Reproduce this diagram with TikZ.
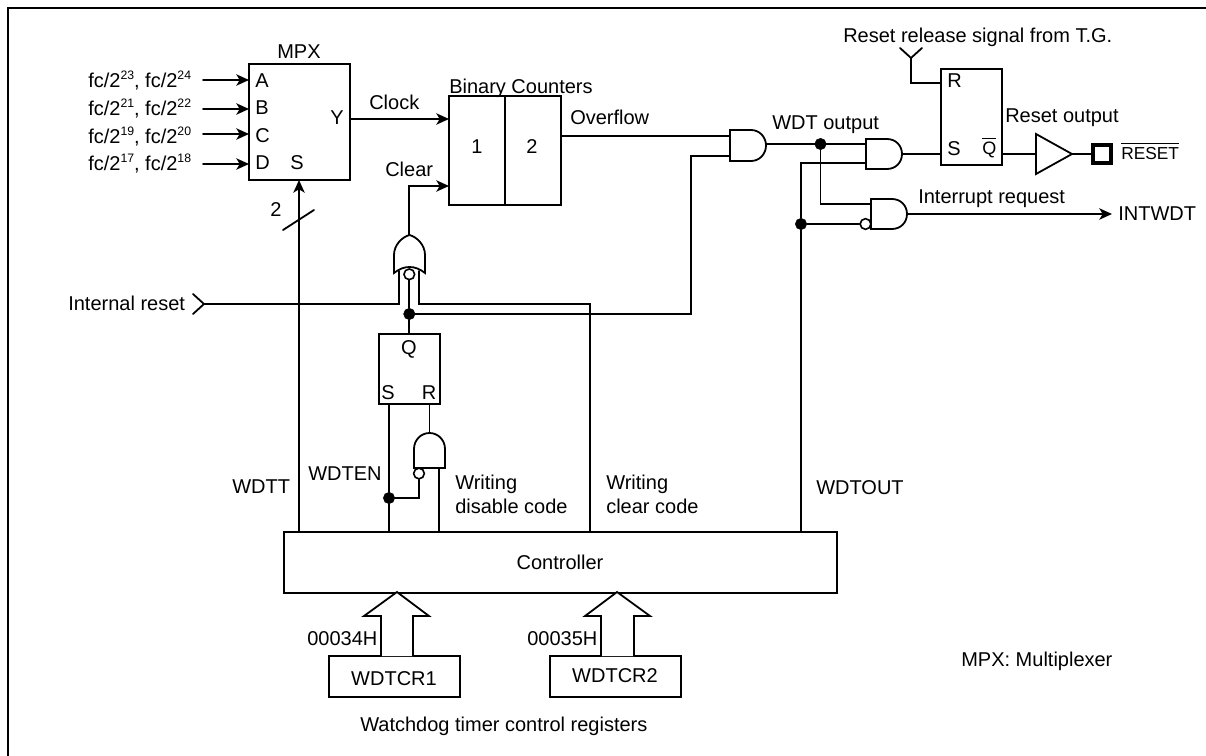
\documentclass[tikz,border=0pt]{standalone}
\usepackage{fontspec}
\setmainfont{Liberation Sans}
\usetikzlibrary{arrows.meta}
\newcommand{\sups}[1]{\raisebox{0.42em}{\fontsize{9.2pt}{10pt}\selectfont #1}}
\tikzset{
  wire/.style={line width=1.35pt,line cap=round,line join=miter},
  gate/.style={line width=1.35pt,fill=white,line join=miter},
  sig/.style={wire,-{Stealth[length=9.5pt,width=8.5pt,inset=2.5pt]}},
  boxn/.style={draw,line width=1.35pt,inner sep=0pt,fill=white},
  regbox/.style={draw,line width=1.9pt,inner sep=0pt,fill=white},
  dotn/.style={circle,fill=black,draw=black,inner sep=0pt,minimum size=8.5pt},
  bub/.style={circle,fill=white,draw=black,line width=1.2pt,inner sep=0pt,minimum size=8pt},
  lab/.style={anchor=base west,inner sep=0pt},
  labc/.style={anchor=base,inner sep=0pt}
}
\begin{document}
\begin{tikzpicture}[x=0.75pt,y=-0.75pt,font=\fontsize{15pt}{18pt}\selectfont]
\useasboundingbox (0,0) rectangle (1206,756);
% frame (cropped: only top and left visible)
\coordinate (fTL) at (8,8);
\coordinate (fTR) at (1206,8);
\coordinate (fBL) at (8,756);
\draw[line width=1.5pt] (fBL) -- (fTL) -- (fTR);

% boxes
\node[boxn,minimum width=75.75pt,minimum height=87pt] (mpx) at (299.5,122) {};
\node[boxn,minimum width=84pt,minimum height=81.75pt] (cnt) at (505,150.5) {};
\node[boxn,minimum width=45.75pt,minimum height=52.5pt] (sr1) at (409.5,369) {};
\node[boxn,minimum width=45.75pt,minimum height=72pt] (sr2) at (971.5,117) {};
\node[boxn,minimum width=415pt,minimum height=45.75pt] (ctl) at (560.3,562.5) {};
\node[regbox,minimum width=98.25pt,minimum height=30.75pt] (reg1) at (394.5,676.5) {};
\node[regbox,minimum width=98.25pt,minimum height=30.75pt] (reg2) at (615.5,676.5) {};
\node[draw,line width=3pt,inner sep=0pt,minimum width=13.5pt,minimum height=13.5pt] (pad) at (1102,154) {};

% pins
\coordinate (cntT) at (505,96);
\coordinate (cntB) at (505,205);
\draw[wire] (cntT) -- (cntB);

% gates
\draw[gate] (730,130) -- (751,130) .. controls (759.5,130) and (766,137) .. (766,145.5) .. controls (766,154) and (759.5,161) .. (751,161) -- (730,161) -- cycle;
\draw[gate] (866,139) -- (887,139) .. controls (895.5,139) and (902,145.5) .. (902,154) .. controls (902,162.5) and (895.5,169) .. (887,169) -- (866,169) -- cycle;
\draw[gate] (871,199) -- (892,199) .. controls (900.5,199) and (907,205.5) .. (907,214) .. controls (907,222.5) and (900.5,229) .. (892,229) -- (871,229) -- cycle;
\draw[gate] (414,468) -- (414,449) .. controls (414,440) and (421,433) .. (429.5,433) .. controls (438,433) and (445,440) .. (445,449) -- (445,468) -- cycle;
\draw[gate] (394,273) -- (394,255) .. controls (394,245) and (402,237) .. (409.5,235) .. controls (417,237) and (425,245) .. (425,255) -- (425,273) .. controls (420,269) and (415,267) .. (409.5,267) .. controls (404,267) and (399,269) .. (394,273) -- cycle;
% buffer
\draw[gate] (1036,134) -- (1072,154) -- (1036,174) -- cycle;

% junctions and bubbles
\node[bub] (bOr) at (409.3,274.3) {};
\node[bub] (bAnd) at (419,473.5) {};
\node[bub] (bInt) at (865.5,224) {};
\node[dotn] (dQ) at (409.3,314) {};
\node[dotn] (dEn) at (389,498) {};
\node[dotn] (dOut) at (820.5,144) {};
\node[dotn] (dWout) at (801,224) {};

% named coordinates
\foreach \n/\y in {A/80,B/109,C/134,D/164}{
  \coordinate (in\n) at (203,\y);
  \coordinate (pin\n) at (249,\y);
  \draw[sig] (in\n) -- (pin\n);
}
\coordinate (sTop) at (299,180);
\coordinate (sBot) at (299,532);
\draw[sig] (sBot) -- (sTop);
\coordinate (sl1) at (283,230);
\coordinate (sl2) at (314,210);
\draw[wire] (sl1) -- (sl2);

\coordinate (yOut) at (350,119);
\coordinate (clkIn) at (449,119);
\draw[sig] (yOut) -- (clkIn);

\coordinate (orOut) at (409.3,235);
\coordinate (clrC) at (409.3,186);
\coordinate (clrIn) at (449,186);
\draw[sig] (orOut) -- (clrC) -- (clrIn);

\coordinate (irTip) at (204,304);
\coordinate (ir1) at (193,294);
\coordinate (ir2) at (193,314);
\coordinate (orL) at (399,271);
\coordinate (orLc) at (399,304);
\draw[wire] (ir1) -- (irTip) -- (ir2);
\draw[wire] (irTip) -- (orLc) -- (orL);

\coordinate (orR) at (419.3,271);
\coordinate (orRc) at (419.3,304);
\coordinate (clrC2) at (590,304);
\coordinate (clrC3) at (590,532);
\draw[wire] (orR) -- (orRc) -- (clrC2) -- (clrC3);

\coordinate (qPin) at (409.3,334);
\draw[wire] (bOr) -- (dQ) -- (qPin);
\coordinate (qR) at (691,314);
\coordinate (qR2) at (691,156);
\coordinate (a1b) at (730,156);
\draw[wire] (dQ) -- (qR) -- (qR2) -- (a1b);
\coordinate (ovf) at (561,136);
\coordinate (a1a) at (730,136);
\draw[wire] (ovf) -- (a1a);

\coordinate (sPin) at (389,404);
\coordinate (sBt) at (389,532);
\draw[wire] (sPin) -- (dEn) -- (sBt);
\coordinate (rPin) at (429.5,404);
\coordinate (rAnd) at (429.5,433);
\draw[wire] (rPin) -- (rAnd);
\coordinate (enC) at (419,498);
\draw[wire] (dEn) -- (enC) -- (bAnd);
\coordinate (aIn) at (439,468);
\coordinate (aBt) at (439,532);
\draw[wire] (aIn) -- (aBt);

\coordinate (a1o) at (766,144);
\coordinate (a2a) at (866,144);
\draw[wire] (a1o) -- (dOut) -- (a2a);
\coordinate (wC) at (820.5,204);
\coordinate (a3a) at (871,204);
\draw[wire] (dOut) -- (wC) -- (a3a);
\coordinate (wB) at (801,532);
\coordinate (wT) at (801,163);
\coordinate (a2b) at (866,163);
\draw[wire] (wB) -- (dWout) -- (wT) -- (a2b);
\draw[wire] (dWout) -- (bInt);
\coordinate (a2o) at (902,154);
\coordinate (sIn) at (941,154);
\draw[wire] (a2o) -- (sIn);
\coordinate (a3o) at (907,214);
\coordinate (intT) at (1112,214);
\draw[sig] (a3o) -- (intT);

\coordinate (qO) at (1002,154);
\coordinate (bufI) at (1036,154);
\coordinate (bufO) at (1072,154);
\draw[wire] (qO) -- (bufI);
\draw[wire] (bufO) -- (pad);

\coordinate (rrF) at (911,58);
\coordinate (rrA) at (900,48);
\coordinate (rrB) at (922,48);
\coordinate (rrC) at (911,83);
\coordinate (rrI) at (941,83);
\draw[wire] (rrA) -- (rrF) -- (rrB);
\draw[wire] (rrF) -- (rrC) -- (rrI);

% fat arrows
\draw[gate] (381,656) -- (381,616) -- (364,616) -- (397,592) -- (429,616) -- (413,616) -- (413,656);
\draw[gate] (601,656) -- (601,616) -- (585,616) -- (617,592) -- (650,616) -- (634,616) -- (634,656);

% texts
\node[lab] (t1) at (88,88) {fc/2\sups{23}, fc/2\sups{24}};
\node[lab] (t2) at (88,116) {fc/2\sups{21}, fc/2\sups{22}};
\node[lab] (t3) at (88,144) {fc/2\sups{19}, fc/2\sups{20}};
\node[lab] (t4) at (88,171) {fc/2\sups{17}, fc/2\sups{18}};
\node[lab] (tA) at (255,88) {A};
\node[lab] (tB) at (255,115) {B};
\node[lab] (tC) at (255,143) {C};
\node[lab] (tD) at (255,170) {D};
\node[lab] (tS) at (290,170) {S};
\node[lab] (tY) at (330,125) {Y};
\node[labc] (tMPX) at (299,59) {MPX};
\node[lab] (tClk) at (369,110) {Clock};
\node[lab] (tBC) at (449,94) {Binary Counters};
\node[labc] (t1c) at (477,154) {1};
\node[labc] (t2c) at (532,154) {2};
\node[lab] (tOv) at (570,125) {Overflow};
\node[lab] (tCl) at (385,176) {Clear};
\node[labc] (t2w) at (276,216) {2};
\node[lab] (tIR) at (68,310) {Internal reset};
\node[labc] (tQ) at (409,354) {Q};
\node[labc] (tS2) at (388,399) {S};
\node[labc] (tR2) at (429,399) {R};
\node[lab] (tWT) at (232,493) {WDTT};
\node[lab] (tWE) at (308,480) {WDTEN};
\node[lab] (tW1) at (455,489) {Writing};
\node[lab] (tW2) at (455,513) {disable code};
\node[lab] (tW3) at (606,489) {Writing};
\node[lab] (tW4) at (606,513) {clear code};
\node[lab] (tWO) at (816,494) {WDTOUT};
\node[labc] (tCt) at (560,569) {Controller};
\node[lab] (t34) at (307,645) {00034H};
\node[lab] (t35) at (527,645) {00035H};
\node[labc] (tR1) at (394,685) {WDTCR1};
\node[labc] (tR2b) at (615,682) {WDTCR2};
\node[lab] (tWd) at (360,731) {Watchdog timer control registers};
\node[lab] (tMx) at (961,666) {MPX: Multiplexer};
\node[lab] (tWDo) at (772,130) {WDT output};
\node[lab] (tInt) at (918,204) {Interrupt request};
\node[lab] (tIW) at (1118,220) {INTWDT};
\node[lab] (tRo) at (1005,123) {Reset output};
\node[lab] (tRr) at (843,43) {Reset release signal from T.G.};
\node[lab] (tSr) at (947,155.5) {S};
\node[lab] (tRr2) at (947,88) {R};
\node[lab,font=\fontsize{13.5pt}{16pt}\selectfont] (tQb) at (982,155) {$\overline{\rule{0pt}{10.8pt}\mbox{Q}}$};
\node[lab,font=\fontsize{13pt}{16pt}\selectfont] (tRs) at (1121,160) {$\overline{\rule{0pt}{11pt}\mbox{RESET}}$};
\end{tikzpicture}
\end{document}
